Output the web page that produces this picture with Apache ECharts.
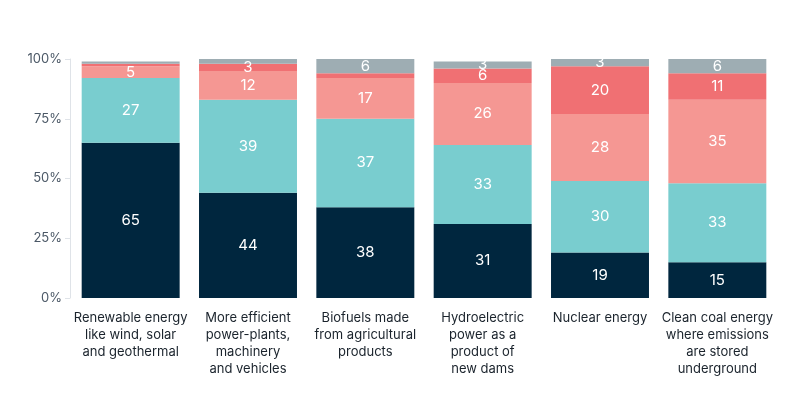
<!DOCTYPE html>
<html>
<head>
<meta charset="utf-8">
<script src="https://cdn.jsdelivr.net/npm/echarts@6/dist/echarts.min.js"></script>
<style>
  html, body { margin: 0; padding: 0; background: #fff; }
  #main { width: 800px; height: 408px; }
</style>
</head>
<body>
<div id="main"></div>
<script>
// categories (x axis)
var categories = [
    'Renewable energy\nlike wind, solar\nand geothermal',
    'More efficient\npower-plants,\nmachinery\nand vehicles',
    'Biofuels made\nfrom agricultural\nproducts',
    'Hydroelectric\npower as a\nproduct of\nnew dams',
    'Nuclear energy',
    'Clean coal energy\nwhere emissions\nare stored\nunderground'
];

// stacked values, bottom to top (percent)
var level1 = [65, 44, 38, 31, 19, 15];
var level2 = [27, 39, 37, 33, 30, 33];
var level3 = [5, 12, 17, 26, 28, 35];
var level4 = [1, 3, 2, 6, 20, 11];
var level5 = [1, 2, 6, 3, 3, 6];

var yTicks = ['0%', '25%', '50%', '75%', '100%'];

var colors = ['#00263e', '#79cdcf', '#f59793', '#f07073', '#9eadb3'];

function makeSeries(name, data, color) {
    return {
        name: name,
        type: 'bar',
        stack: 'total',
        barCategoryGap: '16.5%',
        data: data,
        itemStyle: { color: color },
        label: {
            show: true,
            position: 'inside',
            color: '#fff',
            fontSize: 15,
            fontFamily: 'Inter',
            formatter: function (p) { return p.value >= 3 ? p.value : ''; }
        }
    };
}

var option = {
    animation: false,
    grid: { left: 72, right: 24, top: 59, bottom: 110 },
    xAxis: {
        type: 'category',
        data: categories,
        axisLine: { show: false },
        axisTick: { show: false },
        axisLabel: {
            interval: 0,
            margin: 12,
            color: '#1a232c',
            fontSize: 13,
            fontFamily: 'Inter',
            lineHeight: 17,
            align: 'center'
        }
    },
    yAxis: {
        type: 'value',
        min: 0,
        max: 100,
        interval: 25,
        offset: 2,
        splitLine: { show: false },
        axisLine: { show: true, lineStyle: { color: '#dfe3e8' } },
        axisTick: { show: true, length: 5, lineStyle: { color: '#dfe3e8' } },
        axisLabel: {
            color: '#4b5866',
            fontSize: 13,
            fontFamily: 'Inter',
            margin: 8,
            formatter: function (v) { return yTicks[v / 25]; }
        }
    },
    series: [
        makeSeries('1', level1, colors[0]),
        makeSeries('2', level2, colors[1]),
        makeSeries('3', level3, colors[2]),
        makeSeries('4', level4, colors[3]),
        makeSeries('5', level5, colors[4])
    ]
};

var myChart = echarts.init(document.getElementById('main'));
myChart.setOption(option);
</script>
</body>
</html>
